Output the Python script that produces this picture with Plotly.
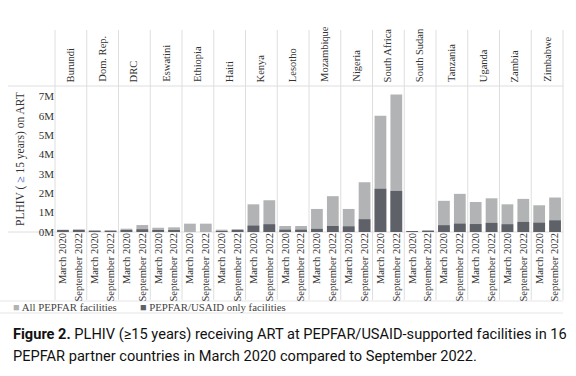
import plotly.graph_objects as go

countries = ["Burundi", "Dom. Rep.", "DRC", "Eswatini", "Ethiopia", "Haiti", "Kenya", "Lesotho",
             "Mozambique", "Nigeria", "South Africa", "South Sudan", "Tanzania", "Uganda", "Zambia", "Zimbabwe"]
periods = ["March 2020", "September 2022"]

# values in millions of PLHIV (>=15 years) on ART
all_mar2020 = [0.12, 0.07, 0.17, 0.22, 0.43, 0.12, 1.43, 0.31, 1.19, 1.19, 6.00, 0.05, 1.61, 1.55, 1.43, 1.38]
all_sep2022 = [0.14, 0.07, 0.36, 0.24, 0.43, 0.15, 1.64, 0.31, 1.85, 2.57, 7.10, 0.06, 1.97, 1.74, 1.71, 1.78]
usaid_mar2020 = [0.08, 0.02, 0.08, 0.10, 0.00, 0.05, 0.33, 0.12, 0.16, 0.29, 2.23, 0.01, 0.35, 0.41, 0.40, 0.48]
usaid_sep2022 = [0.09, 0.02, 0.14, 0.10, 0.00, 0.06, 0.40, 0.12, 0.31, 0.66, 2.12, 0.01, 0.43, 0.47, 0.52, 0.60]

ytick_vals = [0, 1, 2, 3, 4, 5, 6, 7]
ytick_text = ["0M", "1M", "2M", "3M", "4M", "5M", "6M", "7M"]

LIGHT = "#b1b3b4"
DARK = "#5e6167"
GRID = "#dedede"
SERIF = "Liberation Serif, Times New Roman, serif"
NARROW = "Roboto, Liberation Sans, sans-serif"

xs, all_vals, usaid_vals, ticktext = [], [], [], []
for i, c in enumerate(countries):
    for j, p in enumerate(periods):
        xs.append(2 * i + j)
        all_vals.append([all_mar2020, all_sep2022][j][i] * 1e6)
        usaid_vals.append([usaid_mar2020, usaid_sep2022][j][i] * 1e6)
        ticktext.append(p)

fig = go.Figure()
fig.add_trace(go.Bar(x=xs, y=all_vals, name="All PEPFAR facilities", marker_color=LIGHT,
                     marker_line_width=0))
fig.add_trace(go.Bar(x=xs, y=usaid_vals, name="PEPFAR/USAID only facilities", marker_color=DARK,
                     marker_line_width=0))

L, R, T, B = 55, 13, 86, 144
W, H = 576, 376
pw, ph = W - L - R, H - T - B
def px(xp):
    return (xp - L) / pw
def py(yp):
    return (H - B - yp) / ph

n = len(countries)
shapes = []
for k in range(n + 1):
    shapes.append(dict(type="line", xref="paper", yref="paper", x0=k / n, x1=k / n,
                       y0=py(300), y1=py(30), line=dict(color=GRID, width=1), layer="below"))
for yy in (86, 232):
    shapes.append(dict(type="line", xref="paper", yref="paper", x0=px(8), x1=1,
                       y0=py(yy), y1=py(yy), line=dict(color=GRID, width=1), layer="below"))
for yy in (301, 313):
    shapes.append(dict(type="line", xref="paper", yref="paper", x0=px(0), x1=1,
                       y0=py(yy), y1=py(yy), line=dict(color="#e6e6e6", width=1), layer="below"))

annotations = []
for k, c in enumerate(countries):
    annotations.append(dict(text=c, xref="paper", yref="paper", x=(k + 0.5) / n, y=py(84),
                            xanchor="center", yanchor="bottom", textangle=-90, showarrow=False,
                            font=dict(family=SERIF, size=10.5, color="#333")))
annotations.append(dict(text="PLHIV ( <span style='color:#2a4fb8'>≥</span> 15 years) on ART",
                        xref="paper", yref="paper", x=px(20), y=0.5, textangle=-90,
                        xanchor="center", yanchor="middle", showarrow=False,
                        font=dict(family=SERIF, size=11.5, color="#333")))
annotations.append(dict(text=f"<span style='color:{LIGHT}'>■</span> All PEPFAR facilities",
                        xref="paper", yref="paper", x=px(11), y=py(307), xanchor="left",
                        yanchor="middle", showarrow=False,
                        font=dict(family=SERIF, size=10.8, color="#444")))
annotations.append(dict(text=f"<span style='color:{DARK}'>■</span> PEPFAR/USAID only facilities",
                        xref="paper", yref="paper", x=px(138), y=py(307), xanchor="left",
                        yanchor="middle", showarrow=False,
                        font=dict(family=SERIF, size=10.8, color="#444")))
annotations.append(dict(text="<b>Figure 2.</b> PLHIV (≥15 years) receiving ART at PEPFAR/USAID-supported facilities in 16",
                        xref="paper", yref="paper", x=px(11), y=py(334), xanchor="left",
                        yanchor="middle", showarrow=False,
                        font=dict(family=NARROW, size=14.6, color="#111")))
annotations.append(dict(text="PEPFAR partner countries in March 2020 compared to September 2022.",
                        xref="paper", yref="paper", x=px(11), y=py(356), xanchor="left",
                        yanchor="middle", showarrow=False,
                        font=dict(family=NARROW, size=14.6, color="#111")))

fig.update_layout(
    width=W, height=H,
    margin=dict(l=L, r=R, t=T, b=B, autoexpand=False),
    paper_bgcolor="white", plot_bgcolor="white",
    barmode="overlay", bargap=0.26, showlegend=False,
    shapes=shapes, annotations=annotations,
    xaxis=dict(tickmode="array", tickvals=xs, ticktext=ticktext, tickangle=-90,
               range=[-0.5, len(xs) - 0.5], showgrid=False, zeroline=False, showline=False,
               ticks="", ticklabelstandoff=-2,
               tickfont=dict(family=SERIF, size=10.5, color="#333")),
    yaxis=dict(tickmode="array", tickvals=[v * 1e6 for v in ytick_vals], ticktext=ytick_text,
               range=[0, 7.54e6], showgrid=False, zeroline=False, showline=False, ticks="",
               tickfont=dict(family=SERIF, size=11, color="#333")),
)

fig.write_html("out.html", config={"displayModeBar": False},
               post_script="document.body.style.margin='0';document.body.style.padding='0';")
